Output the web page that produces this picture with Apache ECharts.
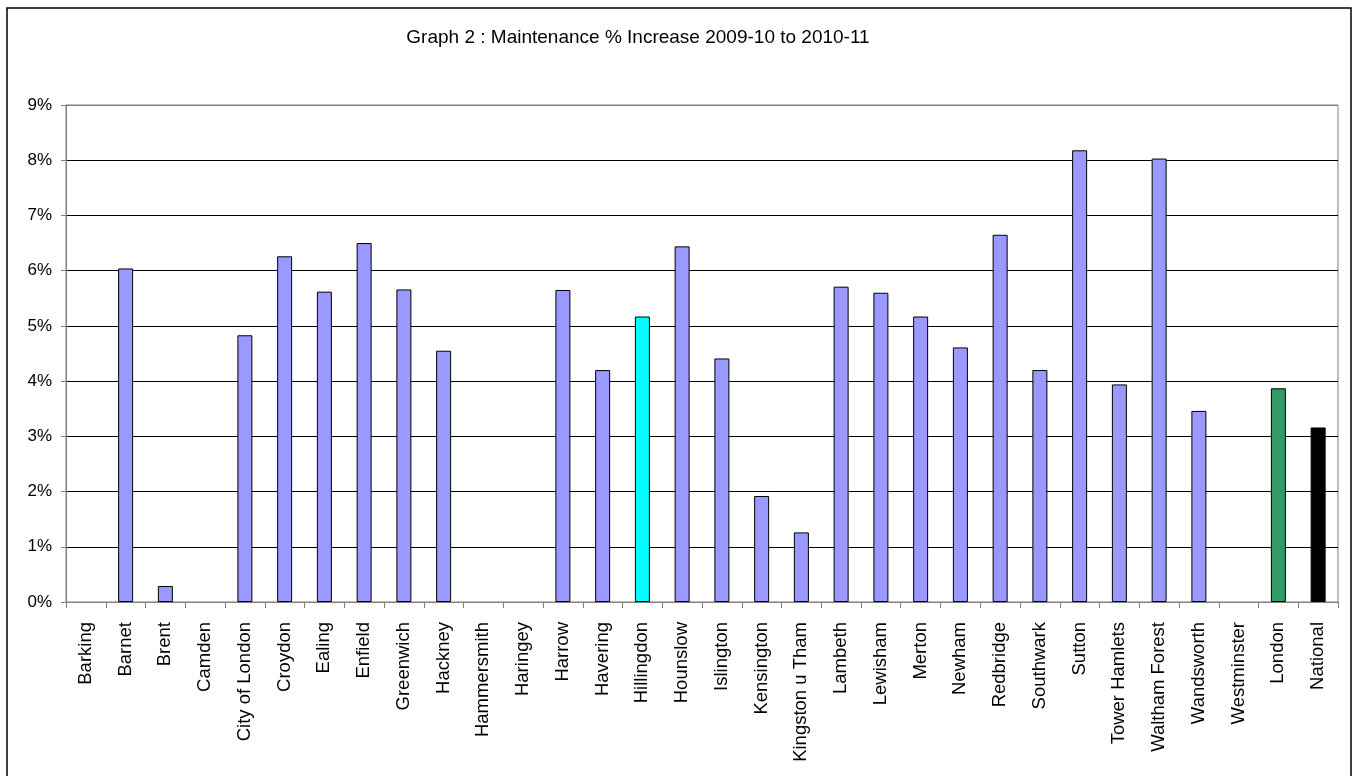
<!DOCTYPE html>
<html>
<head>
<meta charset="utf-8">
<script src="https://cdn.jsdelivr.net/npm/echarts@6/dist/echarts.min.js"></script>
<style>
html,body{margin:0;padding:0;background:#fff;}
#chart{width:1353px;height:776px;}
</style>
</head>
<body>
<div id="chart"></div>
<script>
const titleText = 'Graph 2 : Maintenance % Increase 2009-10 to 2010-11';
const categories = ['Barking','Barnet','Brent','Camden','City of London','Croydon','Ealing','Enfield','Greenwich','Hackney','Hammersmith','Haringey','Harrow','Havering','Hillingdon','Hounslow','Islington','Kensington','Kingston u Tham','Lambeth','Lewisham','Merton','Newham','Redbridge','Southwark','Sutton','Tower Hamlets','Waltham Forest','Wandsworth','Westminster','London','National'];
const values = [0, 6.04, 0.29, 0, 4.83, 6.26, 5.62, 6.50, 5.66, 4.55, 0, 0, 5.65, 4.20, 5.17, 6.44, 4.41, 1.92, 1.26, 5.71, 5.60, 5.17, 4.61, 6.65, 4.20, 8.18, 3.94, 8.03, 3.46, 0, 3.87, 3.16];
const yTicks = [0,1,2,3,4,5,6,7,8,9];

const defaultColor = '#9999FF';
const specialColors = { 'Hillingdon': '#00FFFF', 'London': '#339966', 'National': '#000000' };

const chart = echarts.init(document.getElementById('chart'), null, {renderer: 'canvas'});
const font = '"Liberation Sans", Arial, sans-serif';

const gridColors = yTicks.map((t, i) => i === yTicks.length - 1 ? '#808080' : '#000000');

chart.setOption({
  animation: false,
  backgroundColor: '#ffffff',
  graphic: [
    { type: 'rect', shape: { x: 7, y: 8, width: 1344, height: 800 }, style: { fill: 'none', stroke: '#000', lineWidth: 1.5 }, z: 100 },
    { type: 'text', x: 638, y: 38, style: { text: titleText, font: '19px ' + font, fill: '#000', textAlign: 'center', textVerticalAlign: 'middle' } }
  ],
  grid: { left: 66, right: 15, top: 105, bottom: 174, show: true, borderColor: '#808080', borderWidth: 1, containLabel: false },
  xAxis: {
    type: 'category',
    data: categories,
    boundaryGap: true,
    axisLine: { show: true, lineStyle: { color: '#808080', width: 1 } },
    axisTick: { show: true, alignWithLabel: false, length: 6, lineStyle: { color: '#808080' } },
    axisLabel: { rotate: 90, interval: 0, margin: 20, fontSize: 18.5, fontFamily: font, color: '#000' },
    splitLine: { show: false }
  },
  yAxis: {
    type: 'value',
    min: 0, max: 9, interval: 1,
    axisLine: { show: true, lineStyle: { color: '#808080', width: 1 } },
    axisTick: { show: true, length: 5, lineStyle: { color: '#808080' } },
    axisLabel: { margin: 14, fontSize: 17, fontFamily: font, color: '#000', formatter: v => v + '%' },
    splitLine: { show: true, lineStyle: { color: gridColors, width: 1 } }
  },
  series: [{
    type: 'bar',
    barWidth: 15,
    data: values.map((v, i) => ({
      value: v,
      itemStyle: { color: specialColors[categories[i]] || defaultColor, borderColor: '#000', borderWidth: v === 0 ? 0 : 1 }
    }))
  }]
});
</script>
</body>
</html>
